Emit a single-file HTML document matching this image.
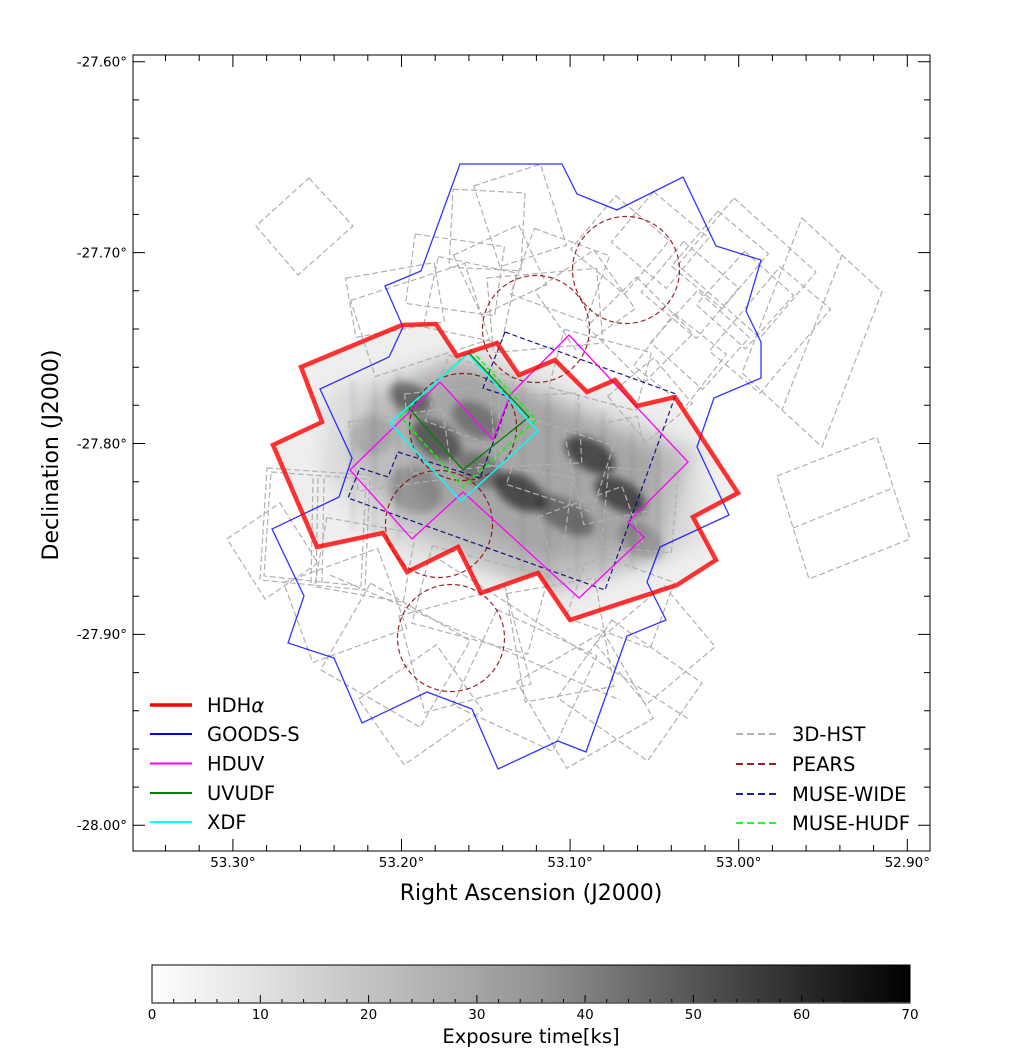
<!DOCTYPE html>
<html>
<head>
<meta charset="utf-8">
<style>
html,body{margin:0;padding:0;background:#fff;}
svg{display:block;}
text{font-family:"DejaVu Sans","Liberation Sans",sans-serif;fill:#000;}
</style>
</head>
<body>
<svg width="1028" height="1051" viewBox="0 0 1028 1051" xmlns="http://www.w3.org/2000/svg">
<defs>
  <clipPath id="redclip">
    <polygon points="402,325 436,324 457,356 497,343 519,375 555,360 587,392 615,380 637,406 675,397 738,493 693,517 716,560 677,585 570,620 538,573 481,593 458,547 407,572 383,533 317,547 273,445 322,422 301,367"/>
  </clipPath>
  <filter id="blur" x="-20%" y="-20%" width="140%" height="140%">
    <feGaussianBlur stdDeviation="8"/>
  </filter>
  <filter id="blur2" x="-20%" y="-20%" width="140%" height="140%">
    <feGaussianBlur stdDeviation="4"/>
  </filter>
  <filter id="blur3" x="-20%" y="-20%" width="140%" height="140%">
    <feGaussianBlur stdDeviation="2"/>
  </filter>
  <linearGradient id="cb" x1="0" y1="0" x2="1" y2="0">
    <stop offset="0" stop-color="#ffffff"/>
    <stop offset="0.5" stop-color="#969696"/>
    <stop offset="1" stop-color="#000000"/>
  </linearGradient>
</defs>

<rect x="0" y="0" width="1028" height="1051" fill="#fff"/>

<!-- exposure map -->
<g clip-path="url(#redclip)">
  <rect x="260" y="310" width="490" height="320" fill="#eeeeee"/>
  <g filter="url(#blur)">
    <polygon points="330,390 470,345 700,445 700,545 560,600 380,545 320,470" fill="#000" fill-opacity="0.08"/>
    <polygon points="365,400 450,358 525,385 690,455 662,560 540,590 400,525 350,460" fill="#000" fill-opacity="0.14"/>
    <polygon points="395,395 470,365 560,410 660,455 650,540 540,560 420,500" fill="#000" fill-opacity="0.12"/>
  </g>
  <g filter="url(#blur3)" fill="#000" fill-opacity="0.06">
    <rect x="350" y="380" width="6" height="150"/>
    <rect x="372" y="380" width="5" height="160"/>
    <rect x="395" y="370" width="6" height="170"/>
    <rect x="520" y="380" width="5" height="190"/>
    <rect x="545" y="390" width="6" height="190"/>
    <rect x="575" y="400" width="4" height="180"/>
    <rect x="600" y="410" width="6" height="170"/>
    <rect x="630" y="420" width="5" height="150"/>
    <rect x="655" y="430" width="6" height="130"/>
  </g>
  <g filter="url(#blur2)">
    <ellipse cx="410" cy="398" rx="22" ry="14" transform="rotate(30 410 398)" fill="#000" fill-opacity="0.4"/>
    <ellipse cx="437" cy="440" rx="28" ry="17" transform="rotate(35 437 440)" fill="#000" fill-opacity="0.45"/>
    <ellipse cx="476" cy="420" rx="26" ry="16" transform="rotate(30 476 420)" fill="#000" fill-opacity="0.3"/>
    <ellipse cx="520" cy="492" rx="28" ry="16" transform="rotate(30 520 492)" fill="#000" fill-opacity="0.55"/>
    <ellipse cx="590" cy="455" rx="28" ry="15" transform="rotate(30 590 455)" fill="#000" fill-opacity="0.55"/>
    <ellipse cx="620" cy="495" rx="28" ry="15" transform="rotate(30 620 495)" fill="#000" fill-opacity="0.55"/>
    <ellipse cx="565" cy="515" rx="32" ry="15" transform="rotate(30 565 515)" fill="#000" fill-opacity="0.35"/>
    <ellipse cx="415" cy="490" rx="28" ry="22" transform="rotate(30 415 490)" fill="#000" fill-opacity="0.2"/>
    <ellipse cx="480" cy="470" rx="24" ry="16" transform="rotate(30 480 470)" fill="#000" fill-opacity="0.3"/>
    <ellipse cx="640" cy="540" rx="24" ry="16" transform="rotate(30 640 540)" fill="#000" fill-opacity="0.18"/>
    <ellipse cx="372" cy="435" rx="22" ry="20" fill="#000" fill-opacity="0.12"/>
  </g>
</g>

<!-- 3D-HST grey dashed footprints -->
<g fill="none" stroke="#b0b0b0" stroke-width="1.2" stroke-dasharray="6,3">
  <polygon points="309,178 353,226 298,275 256,226"/>
  <polygon points="802,218 882,292 822,447 742,373"/>
  <line x1="842" y1="255" x2="782" y2="410"/>
  <polygon points="777,476 877,437 910,539 809,579"/>
  <line x1="793" y1="528" x2="893" y2="488"/>
  <polygon points="734,198 816,272 760,338 678,265"/>
  <polygon points="267,468 370,475 365,590 260,580"/>
  <polygon points="271,472 366,479 361,586 264,576"/>
  <polygon points="227,539 280,503 318,563 265,599"/>
  <line x1="313" y1="478" x2="311" y2="585"/>
  <line x1="318" y1="478" x2="316" y2="585"/>
  <line x1="324" y1="478" x2="322" y2="585"/>

  <rect x="-36" y="-39" width="72" height="78" transform="translate(487,230) rotate(3)"/>
  <rect x="-35" y="-42" width="70" height="85" transform="translate(520,215) rotate(-18)"/>
  <rect x="-45" y="-35" width="90" height="70" transform="translate(455,275) rotate(8)"/>
  <rect x="-60" y="-40" width="120" height="80" transform="translate(420,320) rotate(-18)"/>
  <rect x="-40" y="-35" width="80" height="70" transform="translate(560,275) rotate(20)"/>
  <rect x="-55" y="-37" width="110" height="75" transform="translate(545,310) rotate(-5)"/>
  <rect x="-35" y="-35" width="70" height="70" transform="translate(620,245) rotate(40)"/>
  <rect x="-36" y="-33" width="72" height="66" transform="translate(660,240) rotate(40)"/>
  <rect x="-36" y="-33" width="72" height="66" transform="translate(690,290) rotate(40)"/>
  <rect x="-40" y="-35" width="80" height="70" transform="translate(640,330) rotate(45)"/>
  <rect x="-35" y="-35" width="70" height="70" transform="translate(700,340) rotate(-48)"/>
  <rect x="-33" y="-36" width="66" height="72" transform="translate(745,300) rotate(42)"/>
  <rect x="-33" y="-55" width="66" height="110" transform="translate(770,330) rotate(40)"/>
  <rect x="-30" y="-30" width="60" height="60" transform="translate(650,400) rotate(-40)"/>
  <rect x="-45" y="-30" width="90" height="60" transform="translate(600,370) rotate(15)"/>
  <rect x="-36" y="-33" width="72" height="66" transform="translate(500,270) rotate(-25)"/>
  <rect x="-40" y="-36" width="80" height="72" transform="translate(470,300) rotate(12)"/>
  <rect x="-36" y="-36" width="72" height="72" transform="translate(585,300) rotate(-35)"/>
  <rect x="-33" y="-36" width="66" height="72" transform="translate(720,260) rotate(40)"/>
  <rect x="-45" y="-30" width="90" height="60" transform="translate(395,300) rotate(-10)"/>
  <rect x="-33" y="-33" width="66" height="66" transform="translate(680,360) rotate(38)"/>

  <rect x="-42" y="-40" width="85" height="80" transform="translate(450,430) rotate(-5)"/>
  <rect x="-47" y="-35" width="95" height="70" transform="translate(400,450) rotate(-8)"/>
  <rect x="-45" y="-35" width="90" height="70" transform="translate(560,465) rotate(18)"/>
  <rect x="-37" y="-47" width="75" height="95" transform="translate(610,470) rotate(-12)"/>
  <rect x="-47" y="-40" width="95" height="80" transform="translate(520,510) rotate(8)"/>
  <rect x="-35" y="-35" width="70" height="70" transform="translate(470,400) rotate(20)"/>
  <rect x="-35" y="-40" width="70" height="80" transform="translate(640,510) rotate(5)"/>
  <rect x="-45" y="-30" width="90" height="60" transform="translate(590,530) rotate(-20)"/>
  <rect x="-40" y="-35" width="80" height="70" transform="translate(540,430) rotate(-3)"/>

  <rect x="-50" y="-42" width="100" height="85" transform="translate(345,605) rotate(-20)"/>
  <rect x="-57" y="-50" width="115" height="100" transform="translate(395,655) rotate(30)"/>
  <rect x="-55" y="-50" width="110" height="100" transform="translate(465,650) rotate(-15)"/>
  <rect x="-55" y="-52" width="110" height="105" transform="translate(525,680) rotate(25)"/>
  <rect x="-50" y="-50" width="100" height="100" transform="translate(585,700) rotate(-30)"/>
  <rect x="-55" y="-47" width="110" height="95" transform="translate(630,690) rotate(35)"/>
  <rect x="-47" y="-40" width="95" height="80" transform="translate(420,705) rotate(-35)"/>
  <rect x="-45" y="-55" width="90" height="110" transform="translate(560,640) rotate(-10)"/>
  <rect x="-60" y="-40" width="120" height="80" transform="translate(480,600) rotate(15)"/>
  <rect x="-45" y="-40" width="90" height="80" transform="translate(655,645) rotate(-40)"/>
  <rect x="-45" y="-35" width="90" height="70" transform="translate(365,560) rotate(10)"/>
  <rect x="-45" y="-35" width="90" height="70" transform="translate(620,600) rotate(20)"/>
  <line x1="330" y1="575" x2="620" y2="700"/>
  <line x1="440" y1="560" x2="690" y2="720"/>
</g>

<!-- PEARS circles -->
<g fill="none" stroke="#8b0000" stroke-width="1.2" stroke-dasharray="5,3" stroke-opacity="0.85">
  <circle cx="626" cy="270" r="53.5"/>
  <circle cx="536" cy="329" r="53.5"/>
  <circle cx="463" cy="427" r="53.5"/>
  <circle cx="439" cy="524" r="53.5"/>
  <circle cx="451" cy="638" r="53.5"/>
</g>

<!-- MUSE-WIDE -->
<polygon points="505,332 676,394 605,590 348,498 360,468 388,477 398,452 480,478 510,397 483,388" fill="none" stroke="#000080" stroke-width="1.2" stroke-dasharray="5,3" stroke-opacity="0.9"/>

<!-- HDUV -->
<polygon points="350,470 440,382 493,440 510,395 569,335 688,462 628,522 644,537 579,598 463,492 412,539" fill="none" stroke="#ff00ff" stroke-width="1.3"/>

<!-- UVUDF -->
<polygon points="469,353 529,417 463,470 408,407" fill="none" stroke="#008000" stroke-width="1.3"/>
<!-- MUSE-HUDF -->
<polygon points="471,350 536,420 463,487 400,416" fill="none" stroke="#00ff00" stroke-width="1.5" stroke-dasharray="5,3"/>
<!-- XDF -->
<polygon points="468,354 538,431 461,501 390,423" fill="none" stroke="#00ffff" stroke-width="1.5"/>

<!-- GOODS-S -->
<polygon points="460,164 562,164 577,194 617,210 683,177 716,246 761,260 746,311 761,342 761,378 714,398 697,447 729,515 660,547 647,582 666,620 627,636 586,752 558,741 498,769 472,709 427,692 362,723 334,658 288,643 304,596 272,529 339,497 352,458 320,389 389,357 403,327 385,286 421,271" fill="none" stroke="#0000ff" stroke-opacity="0.8" stroke-width="1.3"/>

<!-- HDHalpha -->
<polygon points="402,325 436,324 457,356 497,343 519,375 555,360 587,392 615,380 637,406 675,397 738,493 693,517 716,560 677,585 570,620 538,573 481,593 458,547 407,572 383,533 317,547 273,445 322,422 301,367" fill="none" stroke="#ff0000" stroke-opacity="0.8" stroke-width="4.5" stroke-linejoin="miter"/>

<!-- axes frame -->
<rect x="133" y="55" width="797" height="796" fill="none" stroke="#000" stroke-width="1"/>

<!-- ticks -->
<g stroke="#000" stroke-width="1">
  <path d="M232.9,851v-12M401.5,851v-12M570.1,851v-12M738.7,851v-12M907.3,851v-12
           M232.9,55v12M401.5,55v12M570.1,55v12M738.7,55v12M907.3,55v12"/>
  <path d="M165.5,851v-6M199.2,851v-6M266.6,851v-6M300.4,851v-6M334.1,851v-6M367.8,851v-6M435.2,851v-6M468.9,851v-6M502.7,851v-6M536.4,851v-6M603.8,851v-6M637.6,851v-6M671.3,851v-6M705,851v-6M772.4,851v-6M806.1,851v-6M839.9,851v-6M873.6,851v-6
           M165.5,55v6M199.2,55v6M266.6,55v6M300.4,55v6M334.1,55v6M367.8,55v6M435.2,55v6M468.9,55v6M502.7,55v6M536.4,55v6M603.8,55v6M637.6,55v6M671.3,55v6M705,55v6M772.4,55v6M806.1,55v6M839.9,55v6M873.6,55v6"/>
  <path d="M133,61.7h12M133,252.6h12M133,443.5h12M133,634.4h12M133,825.3h12
           M930,61.7h-12M930,252.6h-12M930,443.5h-12M930,634.4h-12M930,825.3h-12"/>
  <path d="M133,99.9h6M133,138.1h6M133,176.3h6M133,214.4h6M133,290.8h6M133,329h6M133,367.2h6M133,405.3h6M133,481.7h6M133,519.9h6M133,558.1h6M133,596.2h6M133,672.6h6M133,710.8h6M133,749h6M133,787.1h6
           M930,99.9h-6M930,138.1h-6M930,176.3h-6M930,214.4h-6M930,290.8h-6M930,329h-6M930,367.2h-6M930,405.3h-6M930,481.7h-6M930,519.9h-6M930,558.1h-6M930,596.2h-6M930,672.6h-6M930,710.8h-6M930,749h-6M930,787.1h-6"/>
</g>

<!-- tick labels -->
<g font-size="13.5" text-anchor="end">
  <text x="127" y="66.5">-27.60°</text>
  <text x="127" y="257.4">-27.70°</text>
  <text x="127" y="448.3">-27.80°</text>
  <text x="127" y="639.2">-27.90°</text>
  <text x="127" y="830.1">-28.00°</text>
</g>
<g font-size="13.5" text-anchor="middle">
  <text x="232.9" y="867">53.30°</text>
  <text x="401.5" y="867">53.20°</text>
  <text x="570.1" y="867">53.10°</text>
  <text x="738.7" y="867">53.00°</text>
  <text x="907.3" y="867">52.90°</text>
</g>

<!-- axis labels -->
<text x="531" y="900" font-size="22" text-anchor="middle">Right Ascension (J2000)</text>
<text x="0" y="0" font-size="22" text-anchor="middle" transform="translate(58,455) rotate(-90)">Declination (J2000)</text>

<!-- left legend -->
<g>
  <line x1="150" y1="705" x2="192" y2="705" stroke="#ff0000" stroke-width="3.5"/>
  <line x1="150" y1="734" x2="192" y2="734" stroke="#0000ff" stroke-width="2"/>
  <line x1="150" y1="763.5" x2="192" y2="763.5" stroke="#ff00ff" stroke-width="2"/>
  <line x1="150" y1="793" x2="192" y2="793" stroke="#008000" stroke-width="2"/>
  <line x1="150" y1="822" x2="192" y2="822" stroke="#00ffff" stroke-width="2"/>
  <g font-size="19.5">
    <text x="207" y="712">HDH<tspan font-style="italic">α</tspan></text>
    <text x="207" y="741">GOODS-S</text>
    <text x="207" y="770.5">HDUV</text>
    <text x="207" y="800">UVUDF</text>
    <text x="207" y="829">XDF</text>
  </g>
</g>

<!-- right legend -->
<g stroke-width="1.8" stroke-dasharray="7,4">
  <line x1="736" y1="734" x2="778" y2="734" stroke="#aaaaaa"/>
  <line x1="736" y1="764" x2="778" y2="764" stroke="#8b0000"/>
  <line x1="736" y1="794" x2="778" y2="794" stroke="#000080"/>
  <line x1="736" y1="823" x2="778" y2="823" stroke="#00ff00"/>
</g>
<g font-size="19.5">
  <text x="792" y="741">3D-HST</text>
  <text x="792" y="771">PEARS</text>
  <text x="792" y="801">MUSE-WIDE</text>
  <text x="792" y="830">MUSE-HUDF</text>
</g>

<!-- colorbar -->
<rect x="152" y="965" width="758" height="38" fill="url(#cb)"/>
<g stroke="#000" stroke-width="1">
  <path d="M152,1003v-8M260.3,1003v-8M368.6,1003v-8M476.9,1003v-8M585.1,1003v-8M693.4,1003v-8M801.7,1003v-8M910,1003v-8"/>
  <path d="M173.7,1003v-4M195.3,1003v-4M217,1003v-4M238.6,1003v-4M282,1003v-4M303.6,1003v-4M325.3,1003v-4M346.9,1003v-4M390.3,1003v-4M411.9,1003v-4M433.6,1003v-4M455.2,1003v-4M498.6,1003v-4M520.2,1003v-4M541.9,1003v-4M563.5,1003v-4M606.8,1003v-4M628.5,1003v-4M650.1,1003v-4M671.8,1003v-4M715.1,1003v-4M736.8,1003v-4M758.4,1003v-4M780.1,1003v-4M823.4,1003v-4M845.1,1003v-4M866.7,1003v-4M888.4,1003v-4"/>
</g>
<rect x="152" y="965" width="758" height="38" fill="none" stroke="#000" stroke-width="1"/>
<line x1="152" y1="1003" x2="910" y2="1003" stroke="#555" stroke-width="1.5"/>
<g font-size="13.5" text-anchor="middle">
  <text x="152" y="1019">0</text>
  <text x="260.3" y="1019">10</text>
  <text x="368.6" y="1019">20</text>
  <text x="476.9" y="1019">30</text>
  <text x="585.1" y="1019">40</text>
  <text x="693.4" y="1019">50</text>
  <text x="801.7" y="1019">60</text>
  <text x="910" y="1019">70</text>
</g>
<text x="531" y="1043" font-size="19.5" text-anchor="middle">Exposure time[ks]</text>
</svg>
</body>
</html>
